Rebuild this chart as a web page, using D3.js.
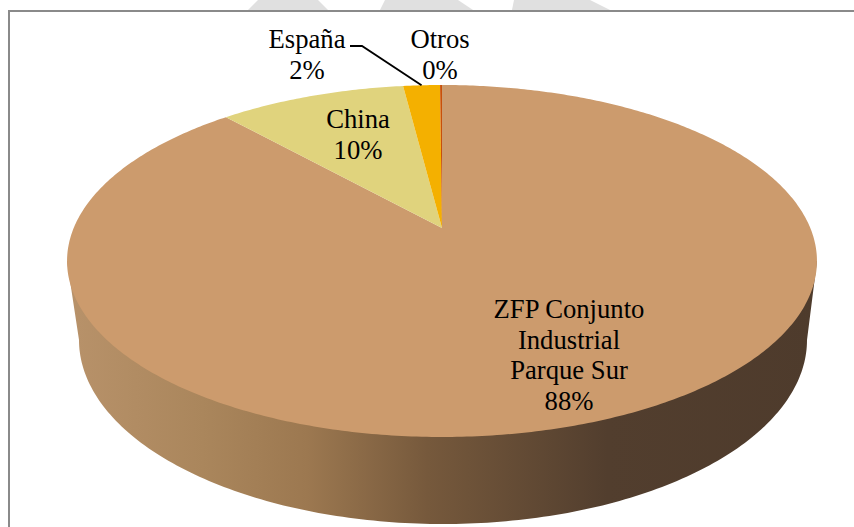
<!DOCTYPE html>
<html><head><meta charset="utf-8">
<script src="https://cdn.jsdelivr.net/npm/d3@7/dist/d3.min.js"></script>
<style>html,body{margin:0;padding:0;background:#fff;overflow:hidden}svg{display:block}
text{font-family:"Liberation Serif","Times New Roman",serif;font-size:26.67px;fill:#000;text-anchor:middle}</style>
</head><body>
<script>
const categories = ["ZFP Conjunto Industrial Parque Sur", "China", "España", "Otros"];
const values = [88.35, 9.65, 1.9, 0.1];
const percentLabels = ["88%", "10%", "2%", "0%"];
const sliceColors = ["#cc9b6d", "#e0d37d", "#f4b000", "#c8500a"];
const labelLines = [["ZFP Conjunto", "Industrial", "Parque Sur"], ["China"], ["España"], ["Otros"]];
const sideStops = [[0, "#b8926a"], [0.18, "#aa865c"], [0.32, "#9c7850"], [0.48, "#76593c"], [0.72, "#523e2e"], [1, "#4e3b2c"]];

const W = 854, H = 527;
const svg = d3.select("body").append("svg").attr("width", W).attr("height", H);

// watermark remnants above the frame
const blobs = [[248, 328, 258, 318], [380, 473, 385, 458], [512, 610, 514, 590]];
svg.append("g").selectAll("path").data(blobs).join("path")
  .attr("d", b => `M${b[0]},10L${b[2]},0L${b[3]},0L${b[1]},10Z`).attr("fill", "#e0e0e0");

// chart frame (open on right and bottom)
svg.append("path").attr("d", `M9,${H}V11H${W}`).attr("fill", "none").attr("stroke", "#8a8a8a").attr("stroke-width", 2);

// perspective projection of the unit disc
const cx = 442, apexY = 228, c = -0.1875, a = 127.06, d = 368.3;
const proj = (ux, uy) => [cx + d * ux / (1 + c * uy), (a * uy + apexY) / (1 + c * uy)];
const onRim = t => proj(Math.sin(t), -Math.cos(t));

const pie = d3.pie().sort(null).value(v => v).startAngle(0).endAngle(2 * Math.PI);
const arcs = pie(values);
const line = d3.line();

// side wall
const defs = svg.append("defs");
const grad = defs.append("linearGradient").attr("id", "side").attr("gradientUnits", "userSpaceOnUse")
  .attr("x1", 68).attr("x2", 817).attr("y1", 0).attr("y2", 0);
sideStops.forEach(s => grad.append("stop").attr("offset", s[0]).attr("stop-color", s[1]));

const botCx = 443, botCy = 340, botRx = 364, botRy = 184, topCy = 261, topRx = 375;
const wall = [[cx - topRx, topCy]];
d3.range(0, 181).forEach(i => {
  const t = Math.PI - i * Math.PI / 180;
  wall.push([botCx + botRx * Math.cos(t), botCy + botRy * Math.sin(t)]);
});
wall.push([cx + topRx, topCy]);
svg.append("path").attr("d", line(wall) + "Z").attr("fill", "url(#side)");

// top face slices
const wedge = p => {
  const n = Math.max(2, Math.ceil((p.endAngle - p.startAngle) * 90));
  const pts = [[cx, apexY]];
  d3.range(n + 1).forEach(i => pts.push(onRim(p.startAngle + (p.endAngle - p.startAngle) * i / n)));
  return line(pts) + "Z";
};
svg.append("g").selectAll("path").data(arcs).join("path")
  .attr("d", wedge).attr("fill", (p, i) => sliceColors[i]);

// leader line for España
const espRim = onRim((arcs[2].startAngle + arcs[2].endAngle) / 2);
svg.append("path").attr("d", line([[350, 46], [362, 46], espRim]))
  .attr("fill", "none").attr("stroke", "#000").attr("stroke-width", 1.8);

// labels
const labelPos = [[569, 318], [358, 128], [307, 48], [440, 48]];
const lh = 30.7;
const lab = svg.append("g");
categories.forEach((name, i) => {
  const t = lab.append("text").attr("x", labelPos[i][0]).attr("y", labelPos[i][1]);
  labelLines[i].concat(percentLabels[i]).forEach((s, j) => {
    t.append("tspan").attr("x", labelPos[i][0]).attr("dy", j ? lh : 0).text(s);
  });
});
</script>
</body></html>
